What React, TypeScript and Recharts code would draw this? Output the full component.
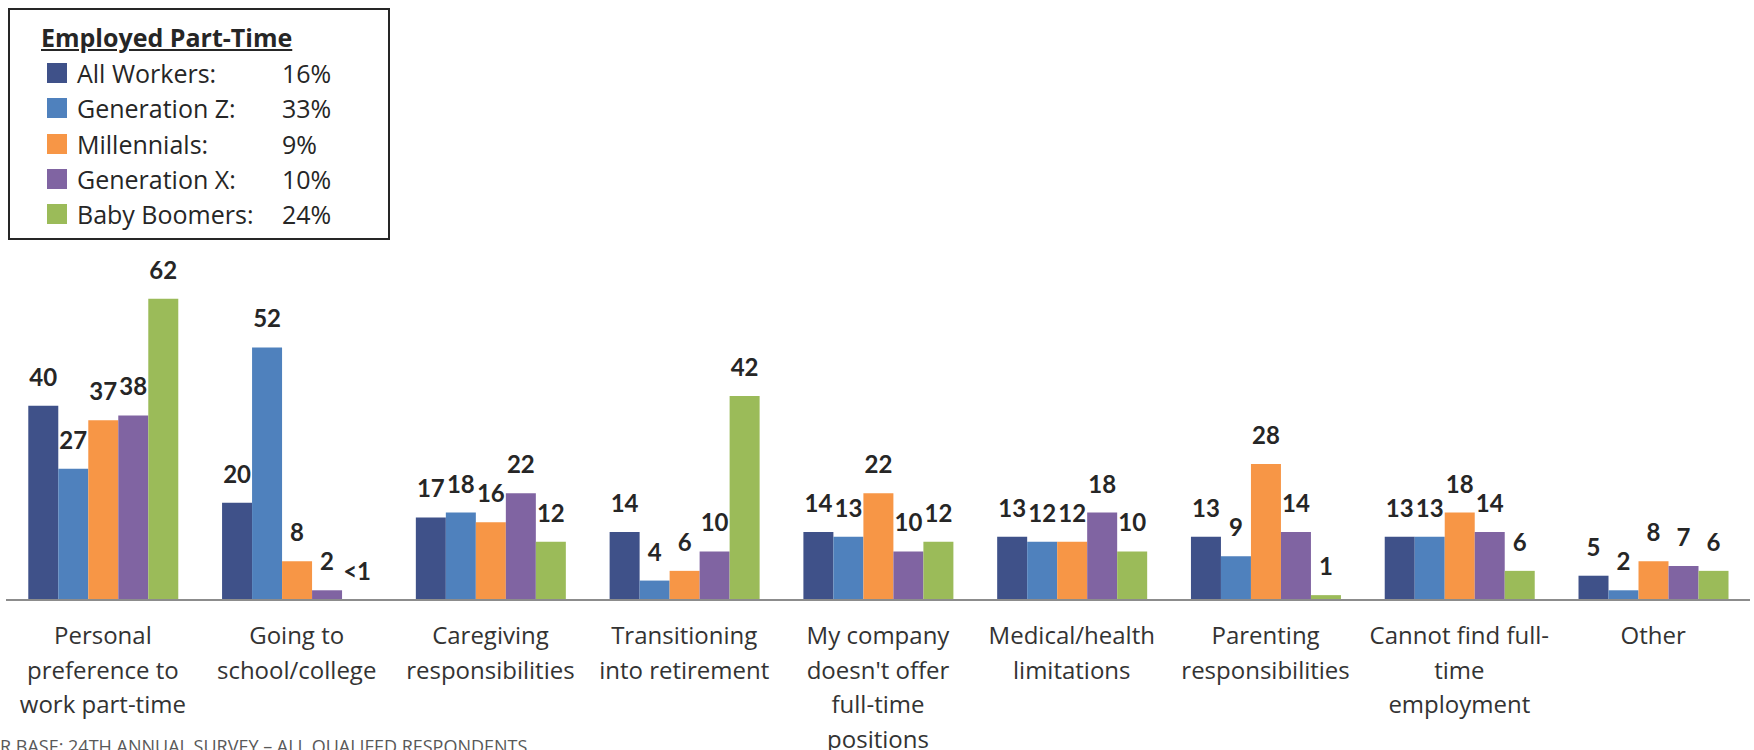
import React from "react";
import { BarChart, Bar, XAxis, YAxis, LabelList } from "recharts";

const categoryLines: string[][] = [
  ["Personal", "preference to", "work part-time"],
  ["Going to", "school/college"],
  ["Caregiving", "responsibilities"],
  ["Transitioning", "into retirement"],
  ["My company", "doesn't offer", "full-time", "positions"],
  ["Medical/health", "limitations"],
  ["Parenting", "responsibilities"],
  ["Cannot find full-", "time", "employment"],
  ["Other"],
];

const allWorkers = [40, 20, 17, 14, 14, 13, 13, 13, 5];
const genZ = [27, 52, 18, 4, 13, 12, 9, 13, 2];
const millennials = [37, 8, 16, 6, 22, 12, 28, 18, 8];
const genX = [38, 2, 22, 10, 10, 18, 14, 14, 7];
// "<1" is shown for Baby Boomers / Going to school
const boomers = [62, 0.05, 12, 42, 12, 10, 1, 6, 6];

const seriesKeys = ["allWorkers", "genZ", "millennials", "genX", "boomers"];
const seriesNames = ["All Workers:", "Generation Z:", "Millennials:", "Generation X:", "Baby Boomers:"];
const seriesColors = ["#3F5189", "#4F81BD", "#F79646", "#8064A2", "#9BBB59"];
const legendPcts = ["16%", "33%", "9%", "10%", "24%"];
const legendTitle = "Employed Part-Time";
const footnote = "R BASE: 24TH ANNUAL SURVEY \u2013 ALL QUALIFED RESPONDENTS";

const seriesValues = [allWorkers, genZ, millennials, genX, boomers];

const data = categoryLines.map((lines, i) => {
  const row: Record<string, any> = { name: lines.join(" "), lines };
  seriesKeys.forEach((k, s) => {
    row[k] = seriesValues[s][i];
  });
  return row;
});

const FONT = "'Open Sans', Lato, sans-serif";
const NUM_FONT = "Lato, 'Open Sans', sans-serif";

const CategoryTick = (props: any) => {
  const { x, y, index } = props;
  const lines = categoryLines[index] || [];
  return (
    <g>
      {lines.map((ln, j) => (
        <text
          key={j}
          x={x}
          y={y + 44 + j * 34.5}
          textAnchor="middle"
          fontFamily={FONT}
          fontSize={24}
          fill="#333333"
        >
          {ln}
        </text>
      ))}
    </g>
  );
};

const ValueLabel = (props: any) => {
  const { x, y, width, value } = props;
  const txt = value < 1 ? "<1" : String(value);
  return (
    <text
      x={x + width / 2}
      y={y - 20}
      textAnchor="middle"
      fontFamily={NUM_FONT}
      fontWeight={700}
      fontSize={24}
      fill="#262626"
    >
      {txt}
    </text>
  );
};

export default function App() {
  return (
    <div style={{ position: "absolute", left: 0, top: 0, width: 1754, height: 750, background: "#fff", overflow: "hidden", fontFamily: FONT }}>
      <BarChart
        width={1754}
        height={750}
        data={data}
        margin={{ top: 260, right: 4, bottom: 0, left: 6 }}
        barCategoryGap="11.5%"
        barGap={0}
      >
        <XAxis
          dataKey="name"
          height={150}
          interval={0}
          tickSize={0}
          tickMargin={0}
          tickLine={false}
          axisLine={{ stroke: "#8c8c8c", strokeWidth: 2 }}
          tick={<CategoryTick />}
        />
        <YAxis hide domain={[0, 70]} />
        {seriesKeys.map((k, s) => (
          <Bar key={k} dataKey={k} fill={seriesColors[s]} isAnimationActive={false}>
            <LabelList dataKey={k} content={<ValueLabel />} />
          </Bar>
        ))}
      </BarChart>

      <div
        style={{
          position: "absolute",
          left: 8,
          top: 8,
          width: 382,
          height: 232,
          border: "2px solid #262626",
          boxSizing: "border-box",
          background: "#fff",
        }}
      >
        <div
          style={{
            position: "absolute",
            left: 31,
            top: 12,
            fontSize: 25,
            fontWeight: 700,
            textDecoration: "underline",
            color: "#262626",
            lineHeight: "30px",
            whiteSpace: "nowrap",
          }}
        >
          {legendTitle}
        </div>
        {seriesNames.map((nm, i) => (
          <div
            key={nm}
            style={{
              position: "absolute",
              left: 37,
              top: 48 + i * 35.3,
              height: 30,
              width: 340,
              display: "flex",
              alignItems: "center",
              fontSize: 25,
              lineHeight: "30px",
              color: "#262626",
              whiteSpace: "nowrap",
            }}
          >
            <span style={{ display: "inline-block", width: 20, height: 20, background: seriesColors[i], marginRight: 10, flex: "none" }} />
            <span style={{ width: 205, flex: "none" }}>{nm}</span>
            <span>{legendPcts[i]}</span>
          </div>
        ))}
      </div>

      <div
        style={{
          position: "absolute",
          left: 0,
          top: 737,
          fontSize: 18,
          lineHeight: "18px",
          color: "#595959",
          whiteSpace: "nowrap",
        }}
      >
        {footnote}
      </div>
    </div>
  );
}
